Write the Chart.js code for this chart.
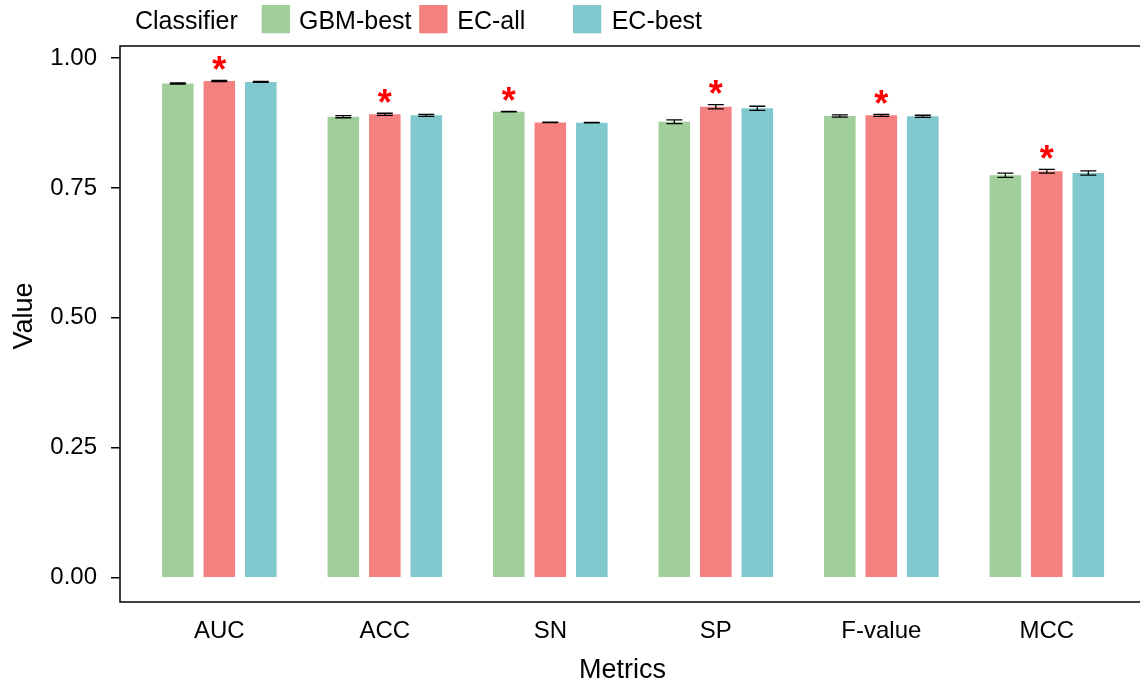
<!DOCTYPE html>
<html><head><meta charset="utf-8">
<script src="https://cdn.jsdelivr.net/npm/chart.js@4/dist/chart.umd.min.js"></script>
<style>html,body{margin:0;padding:0;background:#fff}#wrap{width:1140px;height:684px;position:relative}</style>
</head><body><div id="wrap"><canvas id="c" width="1140" height="684"></canvas></div>
<script>
// ---- data ----
const metrics = ['AUC', 'ACC', 'SN', 'SP', 'F-value', 'MCC'];
const classifiers = ['GBM-best', 'EC-all', 'EC-best'];
const gbmBest  = [0.951, 0.887, 0.8967, 0.8774, 0.8884, 0.7743];
const ecAll    = [0.9557, 0.8917, 0.876, 0.9063, 0.8897, 0.782];
const ecBest   = [0.954, 0.8897, 0.8755, 0.9032, 0.8878, 0.7787];
const gbmErr   = [0.001, 0.002, 0.0005, 0.0035, 0.002, 0.004];
const ecAllErr = [0.001, 0.002, 0.0005, 0.004, 0.002, 0.0035];
const ecBestErr= [0.001, 0.002, 0.0005, 0.004, 0.002, 0.004];
const bestIndex = [1, 1, 0, 1, 1, 1]; // classifier marked with * per metric
const yTicks = [0, 0.25, 0.5, 0.75, 1];
const legendTitle = 'Classifier';
const xTitle = 'Metrics';
const yTitle = 'Value';

const colors = ['#A1CF9B', '#F58080', '#80C8CE'];
const seriesVals = [gbmBest, ecAll, ecBest];
const seriesErrs = [gbmErr, ecAllErr, ecBestErr];
const FONT = '"Liberation Sans", Arial, Helvetica, sans-serif';

const extras = {
  id: 'extras',
  afterDatasetsDraw(chart) {
    const ctx = chart.ctx, ys = chart.scales.y;
    ctx.save();
    ctx.strokeStyle = '#000';
    ctx.lineWidth = 1.3;
    seriesVals.forEach((vals, k) => {
      const meta = chart.getDatasetMeta(k);
      vals.forEach((v, i) => {
        const bar = meta.data[i];
        const e = seriesErrs[k][i];
        const yt = ys.getPixelForValue(v + e), yb = ys.getPixelForValue(v - e);
        ctx.beginPath();
        ctx.moveTo(bar.x, yt); ctx.lineTo(bar.x, yb);
        ctx.moveTo(bar.x - 8, yt); ctx.lineTo(bar.x + 8, yt);
        ctx.moveTo(bar.x - 8, yb); ctx.lineTo(bar.x + 8, yb);
        ctx.stroke();
      });
    });
    // significance stars
    ctx.fillStyle = '#FF0000';
    ctx.font = 'bold 36px ' + FONT;
    ctx.textAlign = 'center';
    ctx.textBaseline = 'alphabetic';
    const m = ctx.measureText('*');
    const asc = m.actualBoundingBoxAscent, desc = m.actualBoundingBoxDescent;
    bestIndex.forEach((k, i) => {
      const bar = chart.getDatasetMeta(k).data[i];
      const top = ys.getPixelForValue(seriesVals[k][i] + seriesErrs[k][i]);
      const cy = top - 17.5;
      ctx.fillText('*', bar.x, cy + (asc - desc) / 2);
    });
    ctx.restore();
  },
  afterDraw(chart) {
    const ctx = chart.ctx, a = chart.chartArea;
    ctx.save();
    // panel border
    ctx.strokeStyle = '#000';
    ctx.lineWidth = 1.5;
    ctx.beginPath();
    ctx.moveTo(a.right, a.top); ctx.lineTo(a.left, a.top);
    ctx.lineTo(a.left, a.bottom); ctx.lineTo(a.right, a.bottom);
    ctx.stroke();
    // axis titles
    ctx.fillStyle = '#000';
    ctx.font = '27px ' + FONT;
    ctx.textAlign = 'center';
    ctx.textBaseline = 'alphabetic';
    ctx.fillText(xTitle, 622.5, 677.5);
    ctx.save();
    ctx.translate(31.5, 316);
    ctx.rotate(-Math.PI / 2);
    ctx.fillText(yTitle, 0, 0);
    ctx.restore();
    // legend
    ctx.font = '25px ' + FONT;
    ctx.textAlign = 'left';
    ctx.fillText(legendTitle, 135, 28.5);
    const sw = [261.7, 419.2, 573];
    const tx = [299, 457.3, 611.7];
    classifiers.forEach((name, k) => {
      ctx.fillStyle = colors[k];
      ctx.fillRect(sw[k], 5, 28.3, 28.3);
      ctx.fillStyle = '#000';
      ctx.fillText(name, tx[k], 28.5);
    });
    ctx.restore();
  }
};

new Chart(document.getElementById('c'), {
  type: 'bar',
  data: {
    datasets: classifiers.map((name, k) => ({
      label: name,
      data: seriesVals[k].map((v, i) => ({ x: i + 1, y: v })),
      backgroundColor: colors[k],
      borderWidth: 0,
      categoryPercentage: 0.752,
      barPercentage: 0.761
    }))
  },
  options: {
    responsive: false,
    animation: false,
    events: [],
    layout: { padding: { top: 46, right: 0, left: 0, bottom: 0 } },
    plugins: { legend: { display: false }, tooltip: { enabled: false } },
    scales: {
      x: {
        type: 'linear',
        offset: false,
        min: 0.4,
        max: 6.563,
        afterBuildTicks: s => { s.ticks = metrics.map((c, i) => ({ value: i + 1 })); },
        afterFit: s => { s.height = 82; },
        grid: { display: false, offset: false },
        border: { display: false },
        ticks: {
          autoSkip: false, maxRotation: 0, padding: 7,
          color: '#000',
          font: { family: FONT, size: 24 },
          callback: v => metrics[Math.round(v) - 1] ?? ''
        }
      },
      y: {
        min: -0.0468,
        max: 1.0231,
        afterBuildTicks: s => { s.ticks = yTicks.map(v => ({ value: v })); },
        afterFit: s => { s.width = 120; },
        grid: { drawOnChartArea: false, drawTicks: true, tickLength: 9, color: '#000', lineWidth: 1.5 },
        border: { display: false },
        ticks: {
          padding: 14,
          color: '#000',
          font: { family: FONT, size: 24 },
          callback: v => v.toFixed(2)
        }
      }
    }
  },
  plugins: [extras]
});
</script>
</body></html>
